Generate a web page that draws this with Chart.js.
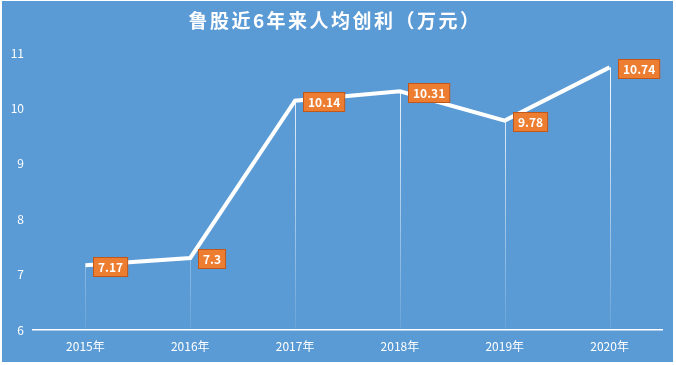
<!DOCTYPE html>
<html><head><meta charset="utf-8">
<script src="https://cdn.jsdelivr.net/npm/chart.js@4/dist/chart.umd.min.js"></script>
<style>html,body{margin:0;padding:0;background:#fff;}#wrap{position:relative;width:676px;height:365px;}</style>
</head><body><div id="wrap"><canvas id="c" width="676" height="365"></canvas></div>
<script>
const categories = ['2015年','2016年','2017年','2018年','2019年','2020年'];
const profit = [7.17, 7.3, 10.14, 10.31, 9.78, 10.74];
const labelsText = ['7.17','7.3','10.14','10.31','9.78','10.74'];
const yTicks = [6,7,8,9,10,11];
const titleText = '鲁股近6年来人均创利（万元）';

const FONT = "'Noto Sans CJK SC', 'Noto Sans', sans-serif";

const bgPlugin = {
  id: 'bg',
  beforeDraw(chart){
    const ctx = chart.ctx;
    ctx.save();
    ctx.fillStyle = '#ffffff';
    ctx.fillRect(0,0,chart.width,chart.height);
    ctx.fillStyle = '#5b9bd5';
    ctx.fillRect(2,1,671,361);
    // title
    ctx.fillStyle = '#ffffff';
    ctx.font = "bold 19px " + FONT;
    ctx.letterSpacing = '2.5px';
    ctx.textAlign = 'center';
    ctx.textBaseline = 'middle';
    ctx.fillText(titleText, 335, 21);
    ctx.restore();
  }
};

const dropPlugin = {
  id: 'drop',
  beforeDatasetsDraw(chart){
    const ctx = chart.ctx, ca = chart.chartArea;
    const meta = chart.getDatasetMeta(0);
    const yb = chart.scales.y.getPixelForValue(6);
    const g = ctx.createLinearGradient(0, ca.top, 0, ca.bottom);
    g.addColorStop(0,'rgba(255,255,255,1)');
    g.addColorStop(1,'rgba(255,255,255,0.08)');
    ctx.save();
    ctx.strokeStyle = g;
    ctx.lineWidth = 1;
    meta.data.forEach(p=>{
      const x = Math.round(p.x)+0.5;
      ctx.beginPath(); ctx.moveTo(x,p.y); ctx.lineTo(x,yb); ctx.stroke();
    });
    ctx.restore();
  }
};

const labelPlugin = {
  id: 'lbl',
  afterDatasetsDraw(chart){
    const ctx = chart.ctx;
    const meta = chart.getDatasetMeta(0);
    ctx.save();
    ctx.font = "bold 12px " + FONT;
    ctx.textBaseline = 'middle';
    ctx.textAlign = 'left';
    meta.data.forEach((p,i)=>{
      const t = labelsText[i];
      const w = ctx.measureText(t).width + 9;
      const h = 19;
      const x = Math.round(p.x + 8) + 0.5;
      const y = Math.round(p.y - h/2 + 1) + 0.5;
      ctx.fillStyle = '#ed7d31';
      ctx.fillRect(x,y,w,h);
      ctx.strokeStyle = '#c0581b';
      ctx.lineWidth = 1;
      ctx.strokeRect(x,y,w,h);
      ctx.fillStyle = '#ffffff';
      ctx.fillText(t, x+4.5, y+h/2+0.5);
    });
    ctx.restore();
  }
};

new Chart(document.getElementById('c'), {
  type: 'line',
  data: {
    labels: categories,
    datasets: [{
      data: profit,
      borderColor: '#ffffff',
      borderWidth: 4,
      pointRadius: 0,
      tension: 0,
      fill: false,
      borderJoinStyle: 'miter'
    }]
  },
  options: {
    responsive: false,
    animation: false,
    devicePixelRatio: 1,
    layout: { padding: { top: 53, left: 2, right: 14, bottom: 0 } },
    plugins: { legend: { display: false }, title: { display: false }, tooltip: { enabled: false } },
    scales: {
      x: {
        offset: true,
        grid: { display: false, drawTicks: false },
        border: { display: true, color: '#ffffff', width: 1.5 },
        ticks: { color: '#ffffff', font: { family: FONT, size: 12 }, padding: 9, maxRotation: 0 },
        afterFit(s){ s.height = 35; }
      },
      y: {
        min: 6, max: 11,
        afterBuildTicks(s){ s.ticks = yTicks.map(v=>({value:v})); },
        grid: { display: false, drawTicks: false },
        border: { display: false },
        ticks: { color: '#ffffff', font: { family: FONT, size: 12 }, padding: 9 },
        afterFit(s){ s.width = 31; }
      }
    }
  },
  plugins: [bgPlugin, dropPlugin, labelPlugin]
});
</script></body></html>
